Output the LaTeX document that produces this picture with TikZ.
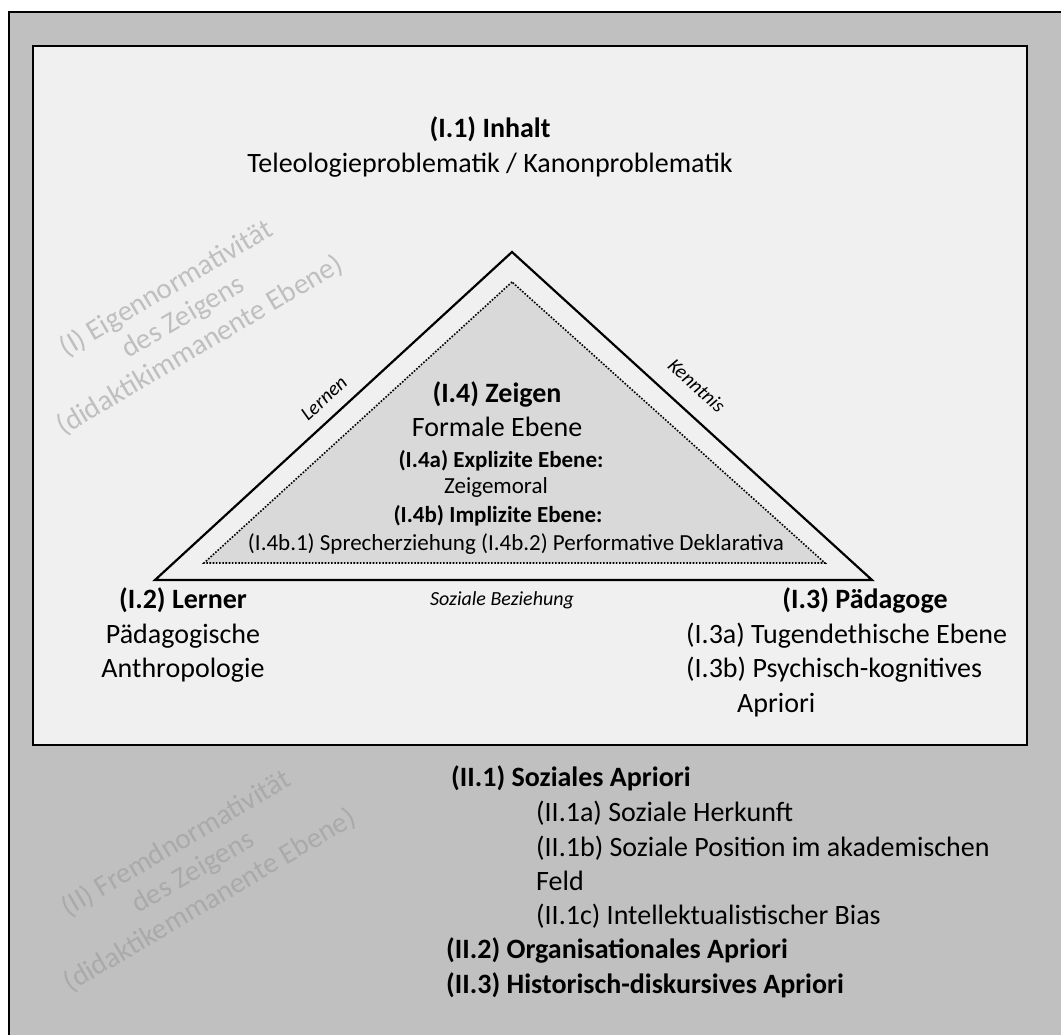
\documentclass[tikz,border=0pt]{standalone}
\usepackage{fontspec}
\setmainfont{Carlito}
\definecolor{outerbg}{HTML}{C0C0C0}
\definecolor{innerbg}{HTML}{F0F0F0}
\definecolor{trifill}{HTML}{D9D9D9}
\definecolor{fadeA}{HTML}{BFBFBF}
\definecolor{fadeB}{HTML}{AAAAAA}
\tikzset{
  big/.style={font=\fontsize{28}{34}\selectfont, inner sep=0pt},
  bigb/.style={font=\fontsize{28}{34}\selectfont\bfseries, inner sep=0pt},
  mid/.style={font=\fontsize{23}{28}\selectfont, inner sep=0pt},
  midb/.style={font=\fontsize{23}{28}\selectfont\bfseries, inner sep=0pt},
  lbl/.style={font=\fontsize{20}{24}\selectfont\itshape, inner sep=0pt},
  faded/.style={font=\fontsize{29}{33}\selectfont, align=center, rotate=30.5, inner sep=0pt},
}
\begin{document}
\begin{tikzpicture}[x=1pt,y=-1pt]
\useasboundingbox (0,0) rectangle (1061,1035);
\clip (0,0) rectangle (1061,1035);
% frames
\draw[line width=2pt, fill=outerbg] (9,12) rectangle (1090,1070);
\draw[line width=2.5pt, fill=innerbg] (33,46) rectangle (1027,745);
% faded labels
\node[faded, text=fadeA] (eigen) at (183,317) {(I) Eigennormativität\\des Zeigens\\(didaktikimmanente Ebene)};
\node[faded, text=fadeB] (fremd) at (193,872) {(II) Fremdnormativität\\des Zeigens\\(didaktikemmanente Ebene)};
% triangles
\coordinate (A) at (512,252);
\coordinate (B) at (155,580);
\coordinate (C) at (872,580);
\coordinate (a) at (512,282);
\coordinate (b) at (204,563);
\coordinate (c) at (825,563);
\draw[line width=2.2pt, line join=miter] (B) -- node[lbl, sloped, pos=0.51, anchor=base, yshift=13pt] (lernen) {Lernen} (A)
  -- node[lbl, sloped, pos=0.465, anchor=base, yshift=19pt] (kenntnis) {Kenntnis} (C) -- cycle;
\draw[line width=1.6pt, dash pattern=on 1.6pt off 1.6pt, fill=trifill] (a) -- (b) -- (c) -- cycle;
% top
\node[bigb, anchor=base] (inhalt) at (490,138) {(I.1) Inhalt};
\node[big, anchor=base] (inhalt2) at (490,173) {Teleologieproblematik / Kanonproblematik};
% inner triangle texts
\node[bigb, anchor=base] (zeigen) at (497,402) {(I.4) Zeigen};
\node[big, anchor=base] (formal) at (497,436) {Formale Ebene};
\node[midb, anchor=base] (explizit) at (501,467) {(I.4a) Explizite Ebene:};
\node[mid, anchor=base] (moral) at (496,493) {Zeigemoral};
\node[midb, anchor=base] (implizit) at (498,522) {(I.4b) Implizite Ebene:};
\node[mid, anchor=base] (sprech) at (516,550) {(I.4b.1) Sprecherziehung (I.4b.2) Performative Deklarativa};
\node[lbl, anchor=base] (sozbez) at (502,605) {Soziale Beziehung};
% Lerner
\node[bigb, anchor=base] (lerner) at (183,608) {(I.2) Lerner};
\node[big, anchor=base] (lerner2) at (183,643) {Pädagogische};
\node[big, anchor=base] (lerner3) at (183,677) {Anthropologie};
% Paedagoge
\node[bigb, anchor=base] (paed) at (865,608) {(I.3) Pädagoge};
\node[big, anchor=base west] (paed2) at (686,643) {(I.3a) Tugendethische Ebene};
\node[big, anchor=base west] (paed3) at (686,677) {(I.3b) Psychisch-kognitives};
\node[big, anchor=base west] (paed4) at (737,712) {Apriori};
% lower list
\node[bigb, anchor=base west] (ii1) at (451,786) {(II.1) Soziales Apriori};
\node[big, anchor=base west] (ii1a) at (536,821) {(II.1a) Soziale Herkunft};
\node[big, anchor=base west] (ii1b) at (536,856) {(II.1b) Soziale Position im akademischen};
\node[big, anchor=base west] (ii1b2) at (536,890) {Feld};
\node[big, anchor=base west] (ii1c) at (536,924) {(II.1c) Intellektualistischer Bias};
\node[bigb, anchor=base west] (ii2) at (446,958) {(II.2) Organisationales Apriori};
\node[bigb, anchor=base west] (ii3) at (446,993) {(II.3) Historisch-diskursives Apriori};
\end{tikzpicture}
\end{document}
